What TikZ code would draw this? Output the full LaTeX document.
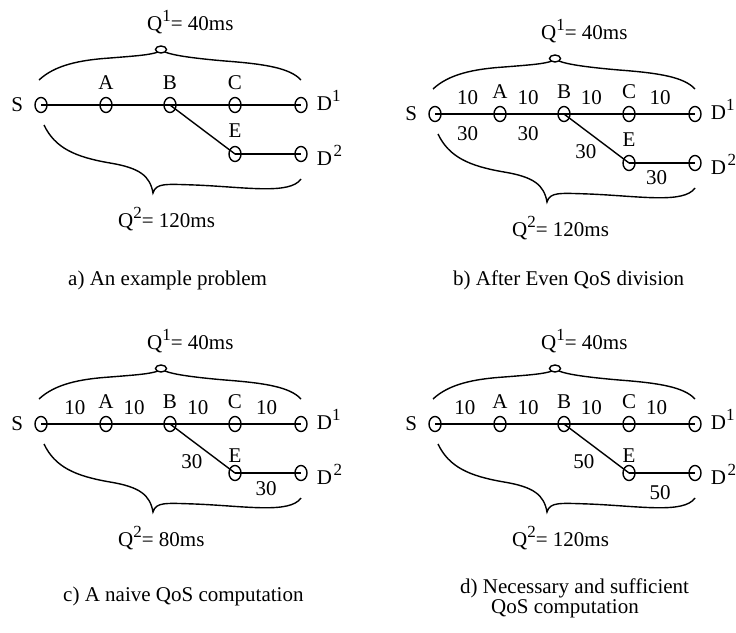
\documentclass[tikz,border=0pt]{standalone}
\usepackage{fontspec}
\setmainfont{Liberation Serif}
\usetikzlibrary{positioning, shapes.geometric}

\newcommand{\upidx}[1]{\raisebox{0.4em}{\fontsize{17}{17}\selectfont #1}}

% one panel: path graph S-A-B-C-D1 with branch B-E-D2 and the two delay bounds
% #1 = gap above E, #2 = bound of D2
\newcommand{\qosgraph}[2]{%
    % routers
    \node[vertex] (S) at (41,105) {};
    \node[vertex] (A) at (106,105) {};
    \node[vertex] (B) at (170,105) {};
    \node[vertex] (C) at (235,105) {};
    \node[vertex] (D1) at (301,105) {};
    \node[vertex] (E) at (235,154) {};
    \node[vertex] (D2) at (301,154) {};
    % router names
    \node[tag, left=11pt of S] (S-label) {S};
    \node[tag, above=7pt of A] (A-label) {A};
    \node[tag, above=7pt of B] (B-label) {B};
    \node[tag, above=7pt of C] (C-label) {C};
    \node[tag, above=#1 of E] (E-label) {E};
    \node[tag, anchor=base west] (D1-label) at ([xshift=9pt, yshift=-5pt]D1.east) {D\upidx{1}};
    \node[tag, anchor=base west] (D2-label) at ([xshift=9pt, yshift=-11pt]D2.east) {D\hspace{1.5pt}\upidx{2}};
    % links
    \draw[link] (S.center) -- (A.center);
    \draw[link] (A.center) -- (B.center);
    \draw[link] (B.center) -- (C.center);
    \draw[link] (C.center) -- (D1.center);
    \draw[link] (B.center) -- (E.center);
    \draw[link] (E.center) -- (D2.center);
    % delay bounds
    \draw[brace] (39,80) .. controls (55,65) and (80,60) .. (110,58) .. controls (135,56) and (150,55) .. (158,52);
    \draw[brace] (165,52) .. controls (172,55) and (190,58) .. (225,61) .. controls (265,64) and (290,68) .. (301,80);
    \draw[brace] (161,49.5) ellipse [x radius=5.5pt, y radius=3.5pt];
    \draw[brace] (44,125) .. controls (55,148) and (75,157) .. (110,163) .. controls (140,168) and (150,176) .. (153,193)
        .. controls (156,183) and (165,184) .. (195,185) .. controls (245,187) and (290,195) .. (301,179);
    \node[tag, anchor=base west] (Q1-label) at (147,30) {Q\upidx{1}= 40ms};
    \node[tag, anchor=base west] (Q2-label) at (118,227) {Q\upidx{2}= #2};
}

\begin{document}
\begin{tikzpicture}[
        x=1pt, y=-1pt,
        font=\fontsize{21}{20}\selectfont,
        vertex/.style={draw, ellipse, minimum width=12pt, minimum height=15pt, inner sep=0pt, line width=1.4pt},
        link/.style={line width=1.4pt},
        brace/.style={line width=1.4pt},
        tag/.style={inner sep=0pt},
        weight/.style={inner sep=0pt}
    ]
    \useasboundingbox (0,0) rectangle (736,632);

    % a) the problem
    \begin{scope}[name prefix=a-]
        \qosgraph{8pt}{120ms}
    \end{scope}

    % b) even division
    \begin{scope}[shift={(394,9)}, name prefix=b-]
        \qosgraph{8pt}{120ms}
        \path (S.center) -- (A.center) node[weight, pos=0.5, above=9pt] {10} node[weight, pos=0.5, below=12pt] {30};
        \path (A.center) -- (B.center) node[weight, pos=0.44, above=9pt] {10} node[weight, pos=0.44, below=12pt] {30};
        \path (B.center) -- (C.center) node[weight, pos=0.42, above=9pt] {10};
        \path (C.center) -- (D1.center) node[weight, pos=0.47, above=9pt] {10};
        \path (B.center) -- (E.center) node[weight, midway, below left=6pt and 0pt] {30};
        \path (E.center) -- (D2.center) node[weight, pos=0.42, below=7pt] {30};
    \end{scope}

    % c) naive computation
    \begin{scope}[shift={(0,319)}, name prefix=c-]
        \qosgraph{2pt}{80ms}
        \path (S.center) -- (A.center) node[weight, pos=0.52, above=9pt] {10};
        \path (A.center) -- (B.center) node[weight, pos=0.44, above=9pt] {10};
        \path (B.center) -- (C.center) node[weight, pos=0.43, above=9pt] {10};
        \path (C.center) -- (D1.center) node[weight, pos=0.48, above=9pt] {10};
        \path (B.center) -- (E.center) node[weight, midway, below left=6pt and 0pt] {30};
        \path (E.center) -- (D2.center) node[weight, pos=0.47, below=8pt] {30};
    \end{scope}

    % d) necessary and sufficient computation
    \begin{scope}[shift={(394,319)}, name prefix=d-]
        \qosgraph{2pt}{120ms}
        \path (S.center) -- (A.center) node[weight, pos=0.46, above=9pt] {10};
        \path (A.center) -- (B.center) node[weight, pos=0.44, above=9pt] {10};
        \path (B.center) -- (C.center) node[weight, pos=0.42, above=9pt] {10};
        \path (C.center) -- (D1.center) node[weight, pos=0.42, above=9pt] {10};
        \path (B.center) -- (E.center) node[weight, midway, below left=6pt and 2pt] {50};
        \path (E.center) -- (D2.center) node[weight, pos=0.47, below=12pt] {50};
    \end{scope}

    % captions
    \node[tag, anchor=base west] (cap-a) at (68,285) {a) An example problem};
    \node[tag, anchor=base west] (cap-b) at (453,285) {b) After Even QoS division};
    \node[tag, anchor=base west] (cap-c) at (63,601) {c) A naive QoS computation};
    \node[tag, anchor=north west, align=left] (cap-d) at (460,579) {d) Necessary and sufficient\\\hspace*{31pt}QoS computation};
\end{tikzpicture}
\end{document}
